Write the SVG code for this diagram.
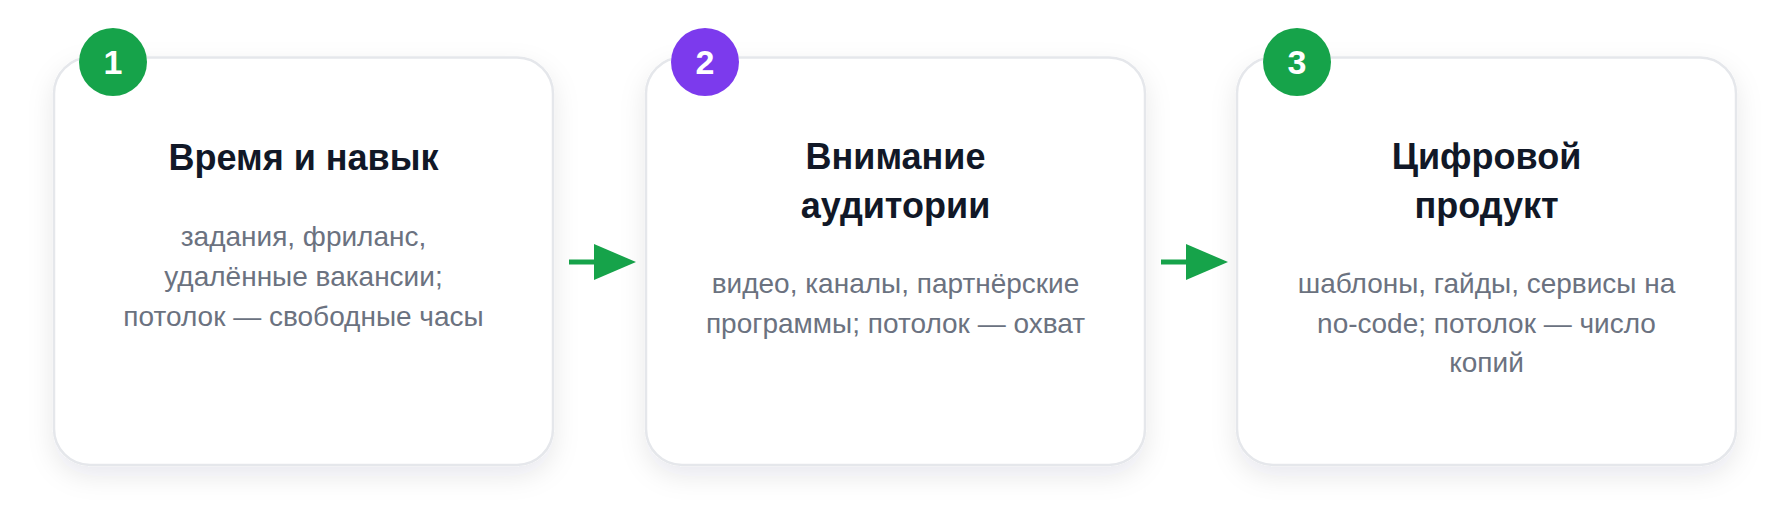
<svg xmlns="http://www.w3.org/2000/svg" width="1790" height="525" viewBox="0 0 1790 525">
  <defs>
    <filter id="shadow" x="-20%" y="-20%" width="140%" height="150%">
      <feDropShadow dx="0" dy="10" stdDeviation="13" flood-color="#0f172a" flood-opacity="0.09"/>
    </filter>
    <marker id="arrowhead" markerUnits="userSpaceOnUse" markerWidth="42" markerHeight="36" refX="0" refY="18" orient="auto">
      <path d="M0,0 L42,18 L0,36 Z" fill="#16a34a"/>
    </marker>
  </defs>
  <style>
    .card { fill: #ffffff; stroke: #e5e7eb; stroke-width: 2.5; }
    .title { font-family: "Liberation Sans", Arial, sans-serif; font-weight: bold; font-size: 36px; fill: #111827; text-anchor: middle; }
    .body { font-family: "Liberation Sans", Arial, sans-serif; font-size: 28px; fill: #6b7280; text-anchor: middle; }
    .num { font-family: "Liberation Sans", Arial, sans-serif; font-weight: bold; font-size: 34px; fill: #ffffff; text-anchor: middle; }
    .conn { stroke: #16a34a; stroke-width: 5; fill: none; }
  </style>
  <rect width="1790" height="525" fill="#ffffff"/>

  <g id="connectors">
    <line class="conn" x1="569" y1="262" x2="594" y2="262" marker-end="url(#arrowhead)"/>
    <line class="conn" x1="1161" y1="262" x2="1186" y2="262" marker-end="url(#arrowhead)"/>
  </g>

  <g id="node-1">
    <rect class="card" x="54" y="57.5" width="499" height="407.5" rx="36" filter="url(#shadow)"/>
    <circle cx="113" cy="62" r="34" fill="#16a34a"/>
    <text class="num" x="113" y="74">1</text>
    <text class="title" x="303.5" y="170">Время и навык</text>
    <text class="body" x="303.5" y="246">задания, фриланс,</text>
    <text class="body" x="303.5" y="286">удалённые вакансии;</text>
    <text class="body" x="303.5" y="325.5">потолок — свободные часы</text>
  </g>

  <g id="node-2">
    <rect class="card" x="646" y="57.5" width="499" height="407.5" rx="36" filter="url(#shadow)"/>
    <circle cx="705" cy="62" r="34" fill="#7c3aed"/>
    <text class="num" x="705" y="74">2</text>
    <text class="title" x="895.5" y="169">Внимание</text>
    <text class="title" x="895.5" y="217.5">аудитории</text>
    <text class="body" x="895.5" y="293">видео, каналы, партнёрские</text>
    <text class="body" x="895.5" y="333">программы; потолок — охват</text>
  </g>

  <g id="node-3">
    <rect class="card" x="1237" y="57.5" width="499" height="407.5" rx="36" filter="url(#shadow)"/>
    <circle cx="1297" cy="62" r="34" fill="#16a34a"/>
    <text class="num" x="1297" y="74">3</text>
    <text class="title" x="1486.5" y="169">Цифровой</text>
    <text class="title" x="1486.5" y="217.5">продукт</text>
    <text class="body" x="1486.5" y="293">шаблоны, гайды, сервисы на</text>
    <text class="body" x="1486.5" y="332.5">no-code; потолок — число</text>
    <text class="body" x="1486.5" y="372">копий</text>
  </g>
</svg>
